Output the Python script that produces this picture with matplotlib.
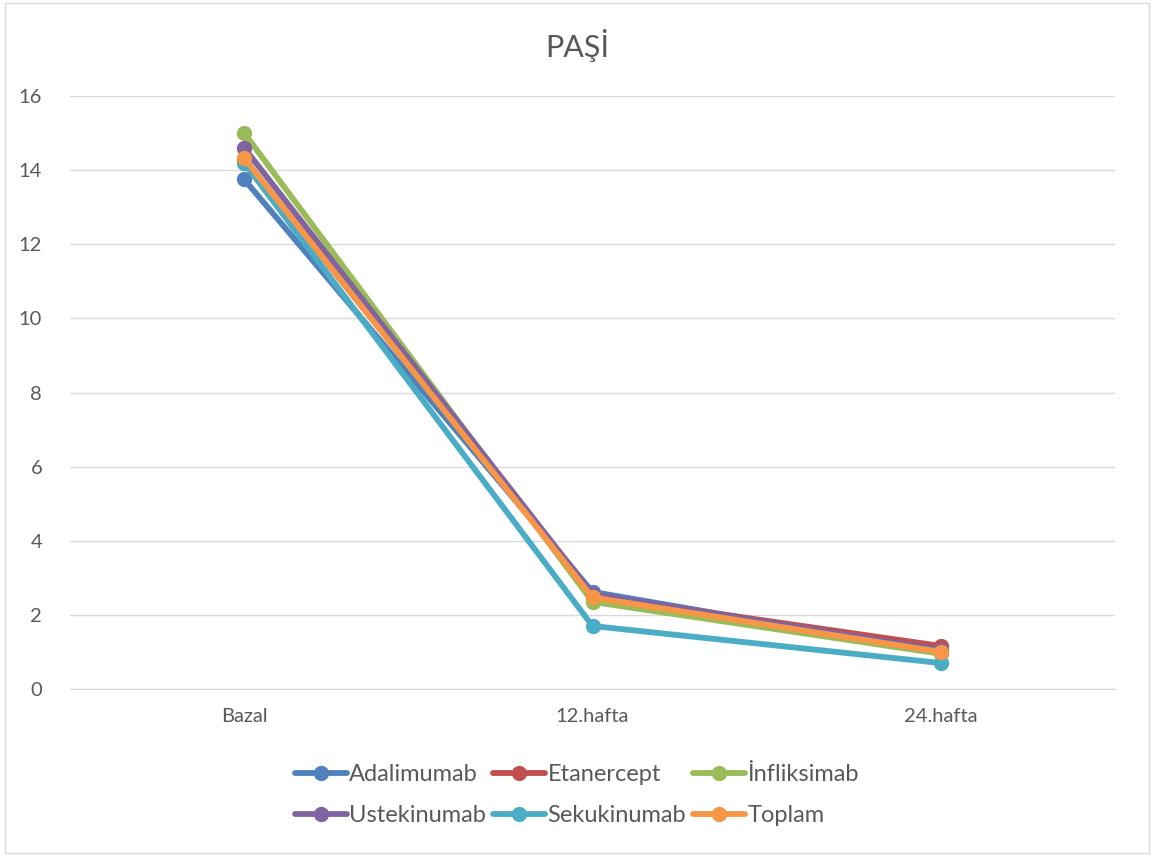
import matplotlib
matplotlib.use("Agg")
import matplotlib.pyplot as plt
from matplotlib.patches import Rectangle

plt.rcParams['font.family'] = ['Lato', 'DejaVu Sans']

categories = ["Bazal", "12.hafta", "24.hafta"]
series_names = ["Adalimumab", "Etanercept", "İnfliksimab", "Ustekinumab", "Sekukinumab", "Toplam"]
adalimumab = [13.75, 2.62, 1.00]
etanercept = [14.30, 2.52, 1.16]
infliksimab = [15.00, 2.35, 0.95]
ustekinumab = [14.60, 2.56, 1.05]
sekukinumab = [14.20, 1.70, 0.70]
toplam = [14.32, 2.47, 1.00]
values = [adalimumab, etanercept, infliksimab, ustekinumab, sekukinumab, toplam]
colors = ["#4F81BD", "#C0504D", "#9BBB59", "#8064A2", "#4BACC6", "#F79646"]
yticks = [0, 2, 4, 6, 8, 10, 12, 14, 16]

fig = plt.figure(figsize=(11.54, 8.56), dpi=100)
fig.patches.append(Rectangle((0.004, 0.004), 0.992, 0.992, transform=fig.transFigure,
                             fill=False, edgecolor="#D9D9D9", linewidth=1))
ax = fig.add_axes([70/1154, 1-689/856, (1115-70)/1154, (689-96)/856])

x = list(range(len(categories)))
handles = []
for name, vals, c in zip(series_names, values, colors):
    h, = ax.plot(x, vals, color=c, linewidth=4.2, marker='o', markersize=10,
                 solid_capstyle='round', label=name)
    handles.append(h)

ax.set_xlim(-0.5, 2.5)
ax.set_ylim(0, 16)
ax.set_yticks(yticks)
ax.set_xticks(x)
ax.set_xticklabels(categories)
ax.grid(axis='y', color="#D9D9D9", linewidth=1)
ax.set_axisbelow(True)
for s in ["top", "right", "left"]:
    ax.spines[s].set_visible(False)
ax.spines["bottom"].set_color("#D9D9D9")
ax.tick_params(axis='both', length=0, colors="#595959", labelsize=14.5)
ax.tick_params(axis='y', pad=20)
ax.tick_params(axis='x', pad=14)

fig.text(0.5, 1-45/856, "PAŞİ", ha='center', va='center', fontsize=22, color="#595959")

order = [0, 3, 1, 4, 2, 5]
leg = fig.legend([handles[i] for i in order], [series_names[i] for i in order],
                 ncol=3, loc='center', bbox_to_anchor=(0.5, 1-795/856),
                 frameon=False, fontsize=17, handlelength=2.2, columnspacing=0.3,
                 handletextpad=0.1, labelspacing=0.85, labelcolor="#595959")

fig.savefig("out.png", dpi=100)
